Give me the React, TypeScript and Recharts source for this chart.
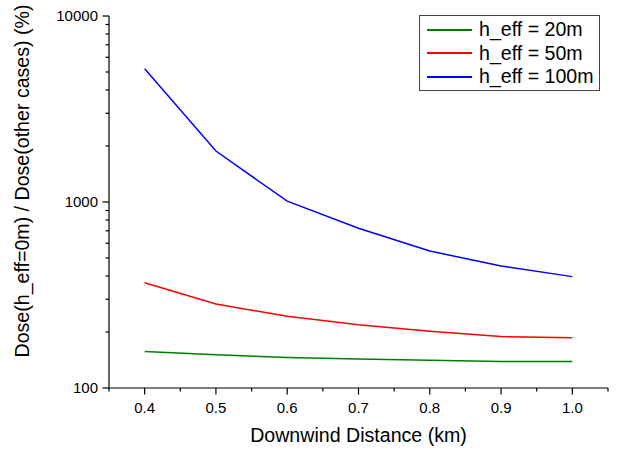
import React from "react";
import { LineChart, Line, XAxis, YAxis, Legend, Label } from "recharts";

const distances = [0.4, 0.5, 0.6, 0.7, 0.8, 0.9, 1.0];
const ratio20 = [157, 151, 146, 143, 141, 139, 139];
const ratio50 = [368, 283, 243, 219, 202, 189, 186];
const ratio100 = [5200, 1880, 1010, 722, 545, 453, 397];

const seriesNames = ["h_eff = 20m", "h_eff = 50m", "h_eff = 100m"];
const seriesKeys = ["h20", "h50", "h100"];
const seriesColors = ["#008000", "#ff0000", "#0000ff"];

const xTicks = [0.35, 0.4, 0.45, 0.5, 0.55, 0.6, 0.65, 0.7, 0.75, 0.8, 0.85, 0.9, 0.95, 1.0, 1.05];
const yTicks = [100, 200, 300, 400, 500, 600, 700, 800, 900, 1000, 2000, 3000, 4000, 5000, 6000, 7000, 8000, 9000, 10000];
const yMajor = [100, 1000, 10000];

const data = distances.map((d, i) => ({
  x: d,
  h20: ratio20[i],
  h50: ratio50[i],
  h100: ratio100[i],
}));

const FONT = "'Liberation Sans', Arial, sans-serif";

const XTick = (props: any) => {
  const { x, y, payload } = props;
  const v = payload.value;
  const major = Math.round(v * 100) % 10 === 0;
  return (
    <g>
      <line x1={x} x2={x} y1={y} y2={y + (major ? 6.5 : 3.5)} stroke="#000" strokeWidth={1.2} />
      {major && (
        <text x={x} y={y + 25} textAnchor="middle" fontSize={15} fontFamily={FONT} fill="#000">
          {v.toFixed(1)}
        </text>
      )}
    </g>
  );
};

const YTick = (props: any) => {
  const { x, y, payload } = props;
  const v = payload.value;
  const major = yMajor.includes(v);
  return (
    <g>
      <line x1={x - (major ? 6.5 : 3.5)} x2={x} y1={y} y2={y} stroke="#000" strokeWidth={1.2} />
      {major && (
        <text x={x - 11} y={y} dy="0.35em" textAnchor="end" fontSize={15} fontFamily={FONT} fill="#000">
          {v}
        </text>
      )}
    </g>
  );
};

const LegendBox = () => (
  <div
    style={{
      border: "1px solid #444",
      background: "#fff",
      width: 179,
      height: 72,
      paddingTop: 2,
      boxSizing: "content-box",
      fontFamily: FONT,
      fontSize: 19.6,
      color: "#000",
    }}
  >
    {seriesNames.map((n, i) => (
      <div key={n} style={{ display: "flex", alignItems: "center", height: 23.5, whiteSpace: "nowrap" }}>
        <div style={{ marginLeft: 7, width: 45, height: 1.6, background: seriesColors[i] }} />
        <span style={{ marginLeft: 7, lineHeight: "23.5px" }}>{n}</span>
      </div>
    ))}
  </div>
);

export default function App() {
  return (
    <div style={{ width: 617, height: 451, background: "#fff" }}>
      <style>{`body{margin:0;background:#fff;}`}</style>
      <LineChart width={617} height={451} data={data} margin={{ top: 16, right: 9, left: 0, bottom: 0 }}>
        <XAxis
          dataKey="x"
          type="number"
          domain={[0.35, 1.05]}
          ticks={xTicks}
          interval={0}
          height={63}
          tickSize={0}
          tickMargin={0}
          tickLine={false}
          axisLine={{ stroke: "#000", strokeWidth: 1.2 }}
          tick={<XTick />}
        >
          <Label
            content={(p: any) => {
              const vb = p.viewBox;
              return (
                <text x={vb.x + vb.width / 2} y={vb.y + 54} textAnchor="middle" fontSize={19.6} fontFamily={FONT} fill="#000">
                  Downwind Distance (km)
                </text>
              );
            }}
          />
        </XAxis>
        <YAxis
          scale="log"
          domain={[100, 10000]}
          ticks={yTicks}
          interval={0}
          width={109}
          allowDataOverflow
          tickSize={0}
          tickMargin={0}
          tickLine={false}
          axisLine={{ stroke: "#000", strokeWidth: 1.2 }}
          tick={<YTick />}
        >
          <Label
            content={(p: any) => {
              const vb = p.viewBox;
              const cx = 29;
              const cy = vb.y + vb.height / 2 - 21;
              return (
                <text
                  x={cx}
                  y={cy}
                  textAnchor="middle"
                  fontSize={19.6}
                  fontFamily={FONT}
                  fill="#000"
                  transform={`rotate(-90, ${cx}, ${cy})`}
                >
                  Dose(h_eff=0m) / Dose(other cases) (%)
                </text>
              );
            }}
          />
        </YAxis>
        <Legend
          layout="vertical"
          align="center"
          verticalAlign="middle"
          content={<LegendBox />}
          wrapperStyle={{ position: "absolute", left: 419, top: 15, width: 181, height: 75 }}
        />
        {seriesKeys.map((k, i) => (
          <Line
            key={k}
            dataKey={k}
            name={seriesNames[i]}
            stroke={seriesColors[i]}
            strokeWidth={1.5}
            dot={false}
            activeDot={false}
            type="linear"
            isAnimationActive={false}
          />
        ))}
      </LineChart>
    </div>
  );
}
